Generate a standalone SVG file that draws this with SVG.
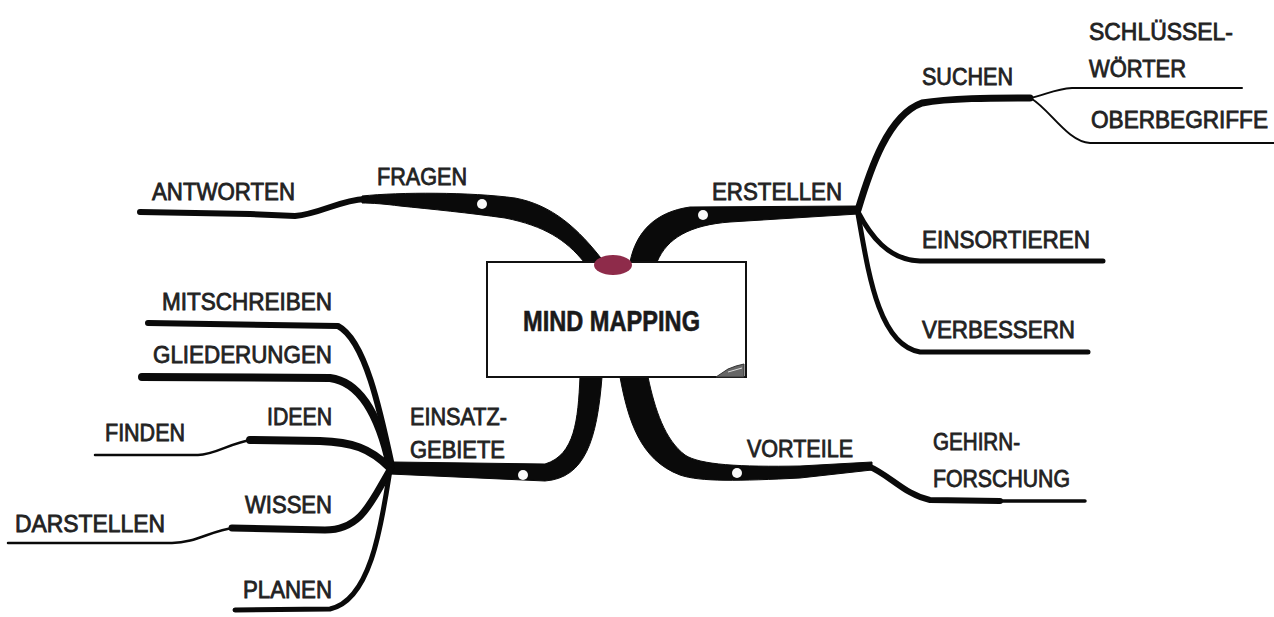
<svg xmlns="http://www.w3.org/2000/svg" width="1274" height="617" viewBox="0 0 1274 617">
<defs>
<style>
.lbl{font-family:"Liberation Sans",Arial,sans-serif;font-size:23px;fill:#222;stroke:#222;stroke-width:0.8}
.title{font-family:"Liberation Sans",Arial,sans-serif;font-size:29px;font-weight:bold;fill:#1a1a1a;stroke:#1a1a1a;stroke-width:0.6}
.br{fill:#0a0a0a;stroke:#0a0a0a;stroke-width:1;stroke-linejoin:round}
.sb{fill:none;stroke:#0a0a0a;stroke-linecap:round;stroke-linejoin:round}
.dot{fill:#fafafa}
</style>
</defs>
<rect width="1274" height="617" fill="#ffffff"/>
<g id="connectors">
<path class="br" d="M 362 196 C 400 192, 470 192, 515 198 C 552 205, 578 228, 604 262 L 584 262 C 566 240, 545 226, 505 218 C 470 213, 430 209, 400 206 C 385 204, 372 203, 362 203 Z"/>
<path class="sb" stroke-width="6" d="M 365 199 C 340 200, 320 214, 295 216 L 250 214 L 140 212"/>
<path class="br" d="M 630 262 C 636 232, 655 212, 690 207 L 858 206 L 858 214 L 730 222 C 690 225, 667 238, 657 262 Z"/>
<path class="br" d="M 620 377 C 628 420, 640 460, 680 475 C 700 482, 740 481, 800 478 L 872 470 L 872 462 L 800 466 C 740 467, 700 465, 685 455 C 665 440, 655 410, 648 377 Z"/>
<path class="br" d="M 580 377 C 578 420, 575 455, 545 464 L 393 462 L 390 474 L 545 481 C 585 478, 597 440, 602 377 Z"/>
<path class="sb" stroke-width="6" d="M 868 466 C 890 475, 905 495, 930 500 L 1000 501"/>
<path class="sb" stroke-width="3.5" d="M 990 501 L 1085 501"/>
<path class="sb" stroke-width="7" d="M 858 210 C 870 170, 888 115, 922 103 C 950 98, 990 98, 1030 98"/>
<path class="sb" stroke-width="2" d="M 1030 98 C 1045 95, 1055 89, 1072 88 L 1242 88"/>
<path class="sb" stroke-width="2" d="M 1032 99 C 1050 110, 1068 142, 1090 143 L 1274 143"/>
<path class="sb" stroke-width="5" d="M 858 212 C 870 235, 888 260, 920 261 L 1103 261"/>
<path class="sb" stroke-width="5" d="M 858 214 C 868 270, 878 345, 920 352 L 1088 352"/>
<path class="sb" stroke-width="6" d="M 392 466 C 380 410, 365 340, 338 326 L 148 323"/>
<path class="sb" stroke-width="8" d="M 390 466 C 380 420, 362 382, 330 378 L 142 377"/>
<path class="sb" stroke-width="8" d="M 390 468 C 370 448, 352 442, 320 441 L 250 440"/>
<path class="sb" stroke-width="2.5" d="M 252 440 C 232 442, 215 455, 198 455 L 95 455"/>
<path class="sb" stroke-width="7" d="M 390 470 C 372 500, 362 530, 325 530 L 232 528"/>
<path class="sb" stroke-width="2.5" d="M 234 528 C 212 530, 196 543, 172 543 L 8 543"/>
<path class="sb" stroke-width="5" d="M 390 470 C 382 520, 372 600, 330 609 L 235 610"/>
<circle class="dot" cx="482" cy="204" r="5"/>
<circle class="dot" cx="703" cy="215" r="5"/>
<circle class="dot" cx="737" cy="473" r="5"/>
<circle class="dot" cx="523" cy="475" r="5"/>
</g>
<g id="center">
<rect x="487" y="262" width="259" height="115" fill="#ffffff" stroke="#111" stroke-width="2"/>
<polygon points="716,377 728,369 736,366 744,364 744,377" fill="#666" stroke="#333" stroke-width="1"/>
<line x1="728" y1="372" x2="742" y2="368" stroke="#ddd" stroke-width="1"/>
<ellipse cx="613" cy="265" rx="19" ry="10" fill="#8e2b4a"/>
<text class="title" x="523" y="331" textLength="177" lengthAdjust="spacingAndGlyphs">MIND MAPPING</text>
</g>
<g id="n-fragen"><text class="lbl" x="377" y="185" textLength="90" lengthAdjust="spacingAndGlyphs">FRAGEN</text></g>
<g id="n-antworten"><text class="lbl" x="152" y="200" textLength="143" lengthAdjust="spacingAndGlyphs">ANTWORTEN</text></g>
<g id="n-erstellen"><text class="lbl" x="712" y="200" textLength="130" lengthAdjust="spacingAndGlyphs">ERSTELLEN</text></g>
<g id="n-suchen"><text class="lbl" x="922" y="85" textLength="91" lengthAdjust="spacingAndGlyphs">SUCHEN</text></g>
<g id="n-schluesselwoerter">
<text class="lbl" x="1089" y="40" textLength="144" lengthAdjust="spacingAndGlyphs">SCHLÜSSEL-</text>
<text class="lbl" x="1089" y="77" textLength="97" lengthAdjust="spacingAndGlyphs">WÖRTER</text>
</g>
<g id="n-oberbegriffe"><text class="lbl" x="1091" y="128" textLength="177" lengthAdjust="spacingAndGlyphs">OBERBEGRIFFE</text></g>
<g id="n-einsortieren"><text class="lbl" x="922" y="248" textLength="168" lengthAdjust="spacingAndGlyphs">EINSORTIEREN</text></g>
<g id="n-verbessern"><text class="lbl" x="922" y="338" textLength="153" lengthAdjust="spacingAndGlyphs">VERBESSERN</text></g>
<g id="n-vorteile"><text class="lbl" x="747" y="457" textLength="106" lengthAdjust="spacingAndGlyphs">VORTEILE</text></g>
<g id="n-gehirnforschung">
<text class="lbl" x="933" y="450" textLength="87" lengthAdjust="spacingAndGlyphs">GEHIRN-</text>
<text class="lbl" x="933" y="487" textLength="137" lengthAdjust="spacingAndGlyphs">FORSCHUNG</text>
</g>
<g id="n-einsatzgebiete">
<text class="lbl" x="410" y="425" textLength="97" lengthAdjust="spacingAndGlyphs">EINSATZ-</text>
<text class="lbl" x="410" y="458" textLength="95" lengthAdjust="spacingAndGlyphs">GEBIETE</text>
</g>
<g id="n-mitschreiben"><text class="lbl" x="162" y="310" textLength="170" lengthAdjust="spacingAndGlyphs">MITSCHREIBEN</text></g>
<g id="n-gliederungen"><text class="lbl" x="153" y="363" textLength="179" lengthAdjust="spacingAndGlyphs">GLIEDERUNGEN</text></g>
<g id="n-ideen"><text class="lbl" x="267" y="425" textLength="65" lengthAdjust="spacingAndGlyphs">IDEEN</text></g>
<g id="n-finden"><text class="lbl" x="105" y="441" textLength="80" lengthAdjust="spacingAndGlyphs">FINDEN</text></g>
<g id="n-wissen"><text class="lbl" x="245" y="513" textLength="87" lengthAdjust="spacingAndGlyphs">WISSEN</text></g>
<g id="n-darstellen"><text class="lbl" x="15" y="532" textLength="150" lengthAdjust="spacingAndGlyphs">DARSTELLEN</text></g>
<g id="n-planen"><text class="lbl" x="243" y="598" textLength="89" lengthAdjust="spacingAndGlyphs">PLANEN</text></g>
</svg>
